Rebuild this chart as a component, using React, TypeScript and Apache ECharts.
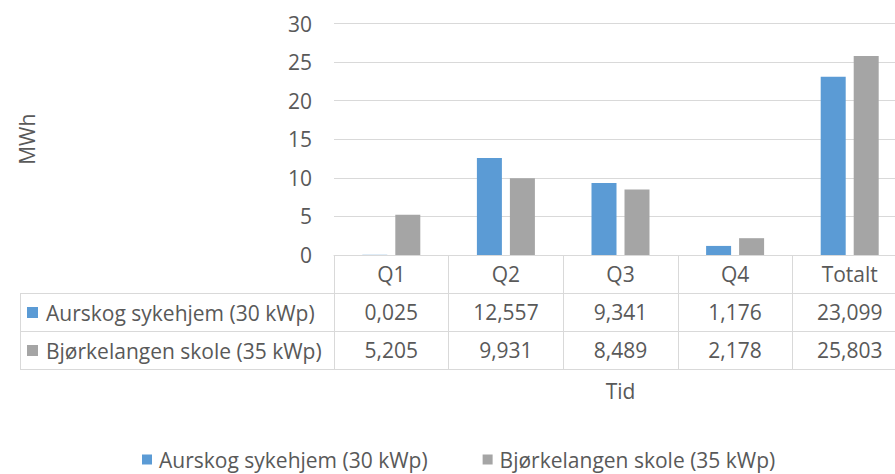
import React, { useEffect, useRef } from "react";
import * as echarts from "echarts";

const categories = ["Q1", "Q2", "Q3", "Q4", "Totalt"];
const aurskog = [0.025, 12.557, 9.341, 1.176, 23.099];
const bjorkelangen = [5.205, 9.931, 8.489, 2.178, 25.803];
const seriesNames = ["Aurskog sykehjem (30 kWp)", "Bjørkelangen skole (35 kWp)"];
const yAxisTitle = "MWh";
const xAxisTitle = "Tid";
const yMin = 0;
const yMax = 30;
const yStep = 5;

const BLUE = "#5b9bd5";
const GRAY = "#a5a5a5";
const TEXT = "#595959";
const LINE = "#d9d9d9";
const FONT = "'Open Sans', Lato, sans-serif";
const FS = 21;

const fmt = (v: number) => v.toFixed(3).replace(".", ",");

export default function App() {
  const ref = useRef<HTMLDivElement>(null);
  useEffect(() => {
    if (!ref.current) return;
    const chart = echarts.init(ref.current, undefined, { renderer: "svg" });
    const valueAxis = (data: string[], offset: number) => ({
      type: "category",
      data,
      position: "bottom",
      offset,
      axisLine: { show: false },
      axisTick: { show: false },
      axisLabel: { color: TEXT, fontSize: FS, fontFamily: FONT, margin: 8, interval: 0 },
    });
    chart.setOption({
      animation: false,
      backgroundColor: "#ffffff",
      grid: { left: 334, right: 0, top: 23.5, bottom: 219 },
      legend: {
        data: seriesNames,
        left: 142,
        top: 449,
        padding: 0,
        icon: "rect",
        itemWidth: 10,
        itemHeight: 10,
        itemGap: 55,
        textStyle: { color: TEXT, fontSize: FS, fontFamily: FONT, padding: [0, 0, 0, 2] },
      },
      xAxis: [
        {
          type: "category",
          data: categories,
          position: "bottom",
          axisLine: { show: true, lineStyle: { color: LINE, width: 1 } },
          axisTick: { show: true, length: 114, interval: 0, lineStyle: { color: LINE } },
          axisLabel: { color: TEXT, fontSize: FS, fontFamily: FONT, margin: 8, interval: 0 },
          name: xAxisTitle,
          nameLocation: "middle",
          nameGap: 125,
          nameTextStyle: { color: TEXT, fontSize: FS, fontFamily: FONT },
        },
        valueAxis(aurskog.map(fmt), 38),
        valueAxis(bjorkelangen.map(fmt), 76),
      ],
      yAxis: {
        type: "value",
        min: yMin,
        max: yMax,
        interval: yStep,
        axisLine: { show: false },
        axisTick: { show: false },
        splitLine: { lineStyle: { color: LINE, width: 1 } },
        axisLabel: { color: TEXT, fontSize: FS, fontFamily: FONT, margin: 22 },
        name: yAxisTitle,
        nameLocation: "middle",
        nameRotate: 90,
        nameGap: 297,
        nameTextStyle: { color: TEXT, fontSize: FS, fontFamily: FONT },
      },
      series: [
        {
          name: seriesNames[0],
          type: "bar",
          data: aurskog,
          xAxisIndex: 0,
          barWidth: 25,
          barGap: "32%",
          itemStyle: { color: BLUE },
        },
        {
          name: seriesNames[1],
          type: "bar",
          data: bjorkelangen,
          xAxisIndex: 0,
          barWidth: 25,
          barGap: "32%",
          itemStyle: { color: GRAY },
        },
      ],
      graphic: [
        { type: "line", shape: { x1: 20, y1: 293.5, x2: 907, y2: 293.5 }, style: { stroke: LINE, lineWidth: 1 } },
        { type: "line", shape: { x1: 20, y1: 331.5, x2: 907, y2: 331.5 }, style: { stroke: LINE, lineWidth: 1 } },
        { type: "line", shape: { x1: 20, y1: 369.5, x2: 907, y2: 369.5 }, style: { stroke: LINE, lineWidth: 1 } },
        { type: "line", shape: { x1: 20.5, y1: 293.5, x2: 20.5, y2: 369.5 }, style: { stroke: LINE, lineWidth: 1 } },
        { type: "rect", shape: { x: 27, y: 307, width: 11, height: 11 }, style: { fill: BLUE } },
        { type: "rect", shape: { x: 27, y: 345, width: 11, height: 11 }, style: { fill: GRAY } },
        {
          type: "text",
          x: 46,
          y: 312.5,
          style: { text: seriesNames[0], fill: TEXT, fontSize: FS, fontFamily: FONT, verticalAlign: "middle", align: "left" },
        },
        {
          type: "text",
          x: 46,
          y: 350.5,
          style: { text: seriesNames[1], fill: TEXT, fontSize: FS, fontFamily: FONT, verticalAlign: "middle", align: "left" },
        },
      ],
    });
    return () => chart.dispose();
  }, []);
  return (
    <div style={{ position: "fixed", left: 0, top: 0, width: 895, height: 474, overflow: "hidden", background: "#fff" }}>
      <div ref={ref} style={{ width: 907, height: 474 }} />
    </div>
  );
}
